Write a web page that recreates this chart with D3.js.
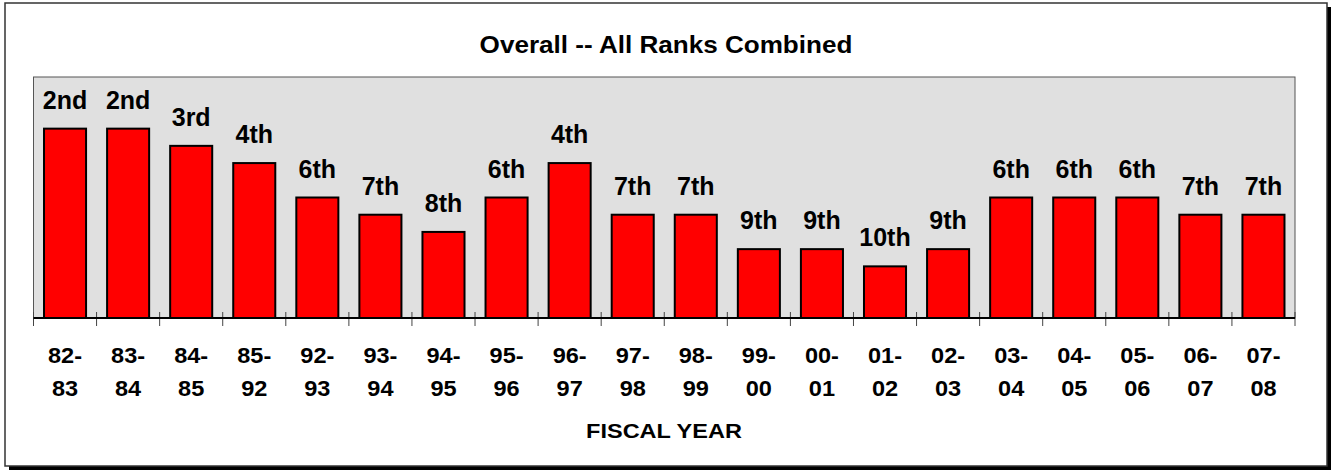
<!DOCTYPE html>
<html>
<head>
<meta charset="utf-8">
<script src="https://cdn.jsdelivr.net/npm/d3@7"></script>
<style>
  body { margin: 0; background: #fff; }
  svg text { font-family: "Liberation Sans", Arial, sans-serif; font-weight: bold; fill: #000; }
</style>
</head>
<body>
<svg id="chart" width="1331" height="470"></svg>
<script>
// fiscal years (two-line labels) and rank for each year
const fiscalYears = ["82-83", "83-84", "84-85", "85-92", "92-93", "93-94", "94-95", "95-96", "96-97", "97-98",
    "98-99", "99-00", "00-01", "01-02", "02-03", "03-04", "04-05", "05-06", "06-07", "07-08"];
const ranks = [2, 2, 3, 4, 6, 7, 8, 6, 4, 7, 7, 9, 9, 10, 9, 6, 6, 6, 7, 7];
const rankLabels = ["2nd", "2nd", "3rd", "4th", "6th", "7th", "8th", "6th", "4th", "7th",
    "7th", "9th", "9th", "10th", "9th", "6th", "6th", "6th", "7th", "7th"];

const chartTitle = "Overall -- All Ranks Combined";
const xTitle = "FISCAL YEAR";

const svg = d3.select("#chart");

// frame with drop shadow
svg.append("rect").attr("x", 9).attr("y", 7).attr("width", 1322).attr("height", 463).attr("fill", "#000");
svg.append("rect").attr("x", 5).attr("y", 3).attr("width", 1322).attr("height", 463)
    .attr("fill", "#fff").attr("stroke", "#333").attr("stroke-width", 1.5);

let margin = { top: 77, left: 33.5, right: 36, bottom: 152 };
let width = 1331 - margin.left - margin.right,
    height = 470 - margin.top - margin.bottom;

let g = svg.append("g").attr("transform", "translate(" + margin.left + "," + margin.top + ")");

let x = d3.scaleBand()
    .domain(fiscalYears)
    .range([0, width])
    .paddingInner(1 / 3)
    .paddingOuter(1 / 6);

// lower rank = taller bar
let y = d3.scaleLinear()
    .domain([13, -1])
    .range([height, 0]);

// plot background
g.append("rect")
    .attr("width", width).attr("height", height)
    .attr("fill", "#e0e0e0").attr("stroke", "#555").attr("stroke-width", 1);

g.selectAll(".bar")
    .data(ranks)
    .enter().append("rect")
    .attr("class", "bar")
    .attr("x", (d, i) => x(fiscalYears[i]))
    .attr("y", d => y(d))
    .attr("width", x.bandwidth())
    .attr("height", d => height - y(d))
    .attr("fill", "#ff0000")
    .attr("stroke", "#000")
    .attr("stroke-width", 2);

g.selectAll(".rank-label")
    .data(ranks)
    .enter().append("text")
    .attr("class", "rank-label")
    .attr("text-anchor", "middle")
    .attr("font-size", 25)
    .attr("x", (d, i) => x(fiscalYears[i]) + x.bandwidth() / 2)
    .attr("y", d => y(d) - 20)
    .text((d, i) => rankLabels[i]);

// x axis: ticks at band edges
let edges = fiscalYears.map(f => x(f) - x.step() * x.paddingInner() / 2).concat([width]);
edges[0] = 0;
g.selectAll(".tick-line")
    .data(edges)
    .enter().append("line")
    .attr("class", "tick-line")
    .attr("x1", d => d).attr("x2", d => d)
    .attr("y1", height - 6).attr("y2", height + 8)
    .attr("stroke", "#444").attr("stroke-width", 1);

g.append("line")
    .attr("x1", 0).attr("x2", width)
    .attr("y1", height).attr("y2", height)
    .attr("stroke", "#000").attr("stroke-width", 2);

let xl = g.selectAll(".x-label")
    .data(fiscalYears)
    .enter().append("text")
    .attr("class", "x-label")
    .attr("text-anchor", "middle")
    .attr("font-size", 22)
    .attr("transform", d => "translate(" + (x(d) + x.bandwidth() / 2) + "," + (height + 45) + ") scale(1.07,1)");
xl.append("tspan").attr("x", 0).attr("dy", 0).text(d => d.split("-")[0] + "-");
xl.append("tspan").attr("x", 0).attr("dy", 33).text(d => d.split("-")[1]);

svg.append("text")
    .attr("text-anchor", "middle")
    .attr("font-size", 21)
    .attr("transform", "translate(664,437.5) scale(1.12,1)")
    .text(xTitle);

svg.append("text")
    .attr("text-anchor", "middle")
    .attr("font-size", 23.5)
    .attr("transform", "translate(666,53) scale(1.11,1)")
    .text(chartTitle);
</script>
</body>
</html>
